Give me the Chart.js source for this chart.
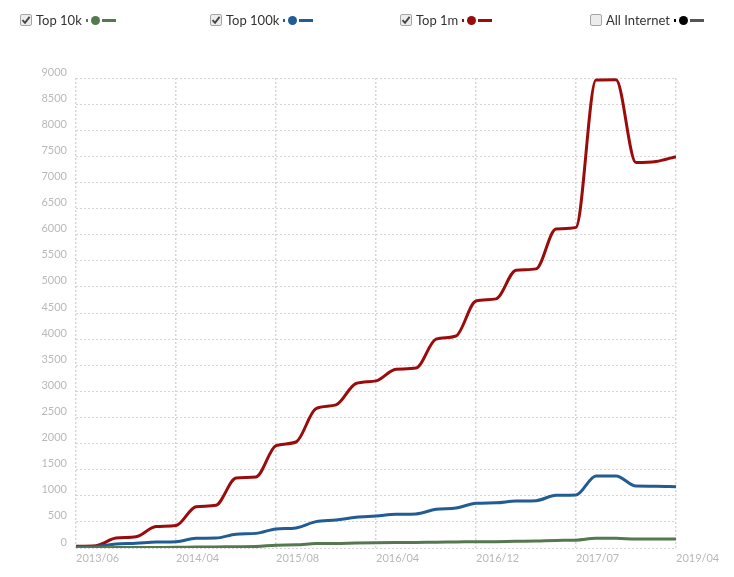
<!DOCTYPE html>
<html><head><meta charset="utf-8">
<script src="https://cdn.jsdelivr.net/npm/chart.js@4"></script>
<style>
html,body{margin:0;padding:0;background:#fff;}
#wrap{position:relative;width:734px;height:577px;overflow:hidden;}
#c{position:absolute;left:0;top:0;}
.legend{position:absolute;top:0;left:0;width:734px;height:40px;font-family:Lato,"Open Sans",sans-serif;font-size:13px;color:#333;}
.item{position:absolute;top:12px;display:flex;align-items:center;height:16px;white-space:nowrap;}
.item input{-webkit-appearance:none;appearance:none;box-sizing:border-box;margin:0 4px 0 0;width:12px;height:12px;border:1px solid #a6a6a6;border-radius:2px;background:#ececec;}
.item input:checked{background:#ececec url("data:image/svg+xml;utf8,<svg xmlns='http://www.w3.org/2000/svg' width='10' height='10' viewBox='0 0 10 10'><path d='M1.5 5.2 L4 7.8 L8.6 1.8' fill='none' stroke='%23444' stroke-width='1.9'/></svg>") center/10px 10px no-repeat;}
.sq{display:inline-block;width:2px;height:3px;margin-left:4px;}
.dot{display:inline-block;width:9px;height:9px;border-radius:50%;margin-left:3px;}
.ln{display:inline-block;width:14px;height:3px;margin-left:2px;}
</style>
</head><body>
<div id="wrap">
<canvas id="c" width="734" height="577"></canvas>
<div class="legend" id="legend"></div>
</div>
<script>
// Tick labels on the x axis (one every 5 periods)
const tickLabels = ["2013/06","2014/04","2015/08","2016/04","2016/12","2017/07","2019/04"];
// Series values (31 periods)
const top10k  = [5,5,8,8,10,12,18,20,25,28,55,60,85,88,95,100,103,105,112,115,120,122,128,132,145,150,185,185,172,172,172];
const top100k = [20,30,75,90,115,120,185,190,265,280,365,385,505,535,590,612,645,652,740,765,855,865,900,907,1008,1015,1380,1380,1185,1182,1175];
const top1m   = [35,45,190,215,410,430,790,820,1340,1360,1960,2030,2670,2740,3150,3200,3425,3445,4000,4060,4730,4770,5320,5345,6110,6140,8960,8965,7380,7400,7495];
const seriesNames = ["Top 10k","Top 100k","Top 1m","All Internet"];
const seriesColors = ["#55794f","#215c94","#9a0c0c","#000000"];
const lineColors = ["#55794f","#215c94","#9a0c0c","#555555"];
const seriesShown = [true,true,true,false];

// legend
const lg = document.getElementById('legend');
const legendX = [20,210,400,590];
seriesNames.forEach((n,i)=>{
  const d = document.createElement('div');
  d.className='item'; d.style.left = legendX[i]+'px';
  d.innerHTML = '<input type="checkbox" '+(seriesShown[i]?'checked':'')+'><span>'+n+'</span>'+
    '<span class="sq" style="background:'+seriesColors[i]+'"></span>'+
    '<span class="dot" style="background:'+seriesColors[i]+'"></span>'+
    '<span class="ln" style="background:'+lineColors[i]+'"></span>';
  lg.appendChild(d);
});

const toPts = arr => arr.map((y,i)=>({x:i,y:y}));
const allData = [top10k, top100k, top1m];
const datasets = [];
[2,1,0].forEach(i=>{
  datasets.push({
    label: seriesNames[i],
    data: toPts(allData[i]),
    borderColor: lineColors[i],
    backgroundColor: lineColors[i],
    borderWidth: 3,
    pointRadius: 0,
    fill: false,
    cubicInterpolationMode: 'monotone',
    order: i
  });
});

const tickFont = {family: 'Lato', size: 11};
new Chart(document.getElementById('c'), {
  type: 'line',
  data: { datasets },
  options: {
    responsive: false,
    animation: false,
    devicePixelRatio: 1,
    layout: { padding: { top: 78, right: 58, bottom: 0, left: 0 } },
    plugins: { legend: { display: false }, tooltip: { enabled: false } },
    scales: {
      x: {
        type: 'linear', min: 0, max: 30,
        afterFit: s => { s.height = 29; },
        grid: { color: '#d6d6d6', lineWidth: 1.5, drawTicks: false },
        border: { display: false, dash: [2,2] },
        ticks: { stepSize: 5, align: 'start', padding: 4, color: '#b9b9b9', font: tickFont, maxRotation: 0,
          callback: v => tickLabels[v/5] }
      },
      y: {
        min: 0, max: 9000,
        afterFit: s => { s.width = 76; },
        grid: { color: '#d6d6d6', lineWidth: 1, drawTicks: false },
        border: { display: false, dash: [2,2] },
        ticks: { stepSize: 500, padding: 9, labelOffset: -6, color: '#b9b9b9', font: tickFont,
          callback: v => String(v) }
      }
    }
  }
});
</script>
</body></html>
